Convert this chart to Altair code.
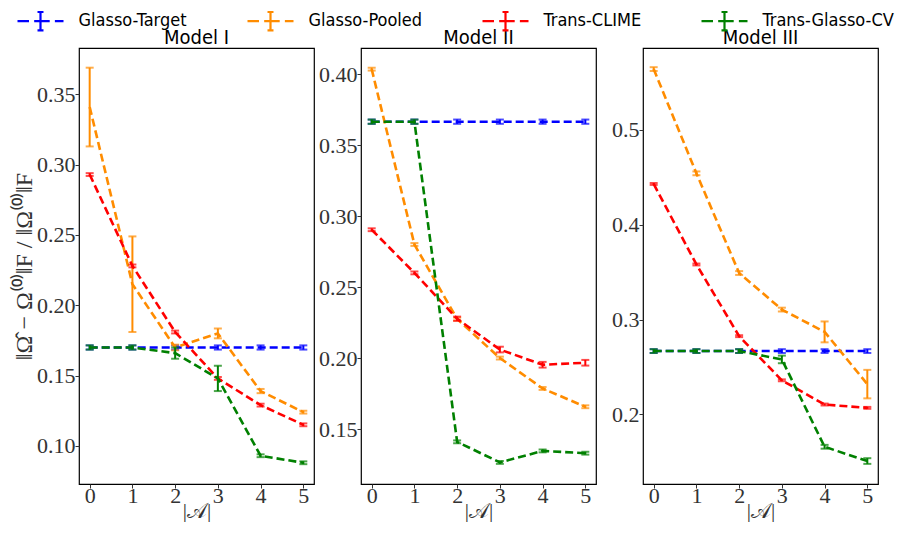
import altair as alt
import pandas as pd

methods = ["Glasso-Target", "Glasso-Pooled", "Trans-CLIME", "Trans-Glasso-CV"]
colors = ["#0000ff", "#ff8c00", "#ff0000", "#008000"]
sizes = [0, 1, 2, 3, 4, 5]
models = ["Model I", "Model II", "Model III"]

# Model I
m1_target = [0.170, 0.170, 0.170, 0.170, 0.170, 0.170]
m1_pooled = [0.341, 0.215, 0.170, 0.180, 0.139, 0.124]
m1_clime = [0.293, 0.228, 0.181, 0.148, 0.129, 0.115]
m1_cv = [0.170, 0.170, 0.166, 0.148, 0.093, 0.088]
m1_target_err = [0.0015, 0.0015, 0.0015, 0.0015, 0.0015, 0.0015]
m1_pooled_err = [0.028, 0.034, 0.002, 0.0035, 0.0015, 0.001]
m1_clime_err = [0.001, 0.001, 0.001, 0.001, 0.001, 0.001]
m1_cv_err = [0.0015, 0.0015, 0.004, 0.009, 0.001, 0.001]

# Model II
m2_target = [0.3665, 0.3665, 0.3665, 0.3665, 0.3665, 0.3665]
m2_pooled = [0.4035, 0.280, 0.2275, 0.200, 0.1786, 0.1657]
m2_clime = [0.2904, 0.260, 0.2277, 0.206, 0.1953, 0.1967]
m2_cv = [0.3665, 0.3665, 0.141, 0.1265, 0.1346, 0.133]
m2_target_err = [0.0015, 0.0015, 0.0015, 0.0015, 0.0015, 0.0015]
m2_pooled_err = [0.001, 0.001, 0.001, 0.001, 0.001, 0.001]
m2_clime_err = [0.001, 0.001, 0.0015, 0.002, 0.002, 0.002]
m2_cv_err = [0.0015, 0.0015, 0.001, 0.001, 0.001, 0.001]

# Model III
m3_target = [0.2668, 0.2668, 0.2668, 0.2668, 0.2668, 0.2668]
m3_pooled = [0.5638, 0.454, 0.349, 0.3105, 0.287, 0.232]
m3_clime = [0.4428, 0.358, 0.2825, 0.236, 0.2105, 0.207]
m3_cv = [0.2668, 0.2668, 0.2668, 0.258, 0.166, 0.151]
m3_target_err = [0.002, 0.002, 0.002, 0.002, 0.002, 0.002]
m3_pooled_err = [0.002, 0.002, 0.002, 0.002, 0.011, 0.015]
m3_clime_err = [0.001, 0.001, 0.001, 0.001, 0.001, 0.001]
m3_cv_err = [0.002, 0.002, 0.002, 0.004, 0.002, 0.003]

y_domains = [[0.0729, 0.383], [0.1113, 0.4184], [0.1268, 0.586]]
y_ticks = [[0.10, 0.15, 0.20, 0.25, 0.30, 0.35],
           [0.15, 0.20, 0.25, 0.30, 0.35, 0.40],
           [0.2, 0.3, 0.4, 0.5]]
y_formats = [".2f", ".2f", ".1f"]

series = {
    "Model I": [(m1_target, m1_target_err), (m1_pooled, m1_pooled_err), (m1_clime, m1_clime_err), (m1_cv, m1_cv_err)],
    "Model II": [(m2_target, m2_target_err), (m2_pooled, m2_pooled_err), (m2_clime, m2_clime_err), (m2_cv, m2_cv_err)],
    "Model III": [(m3_target, m3_target_err), (m3_pooled, m3_pooled_err), (m3_clime, m3_clime_err), (m3_cv, m3_cv_err)],
}

rows = []
for model in models:
    for mi, (vals, errs) in enumerate(series[model]):
        for s, v, e in zip(sizes, vals, errs):
            rows.append({"model": model, "method": methods[mi], "order": mi, "k": s,
                         "val": v, "lo": v - e, "hi": v + e})
df = pd.DataFrame(rows)

SANS = "DejaVu Sans Condensed, Liberation Sans Narrow, Liberation Sans"
SERIF = "Liberation Serif"
cscale = alt.Scale(domain=methods, range=colors)

# legend glyph: dashed line with an error bar, drawn wider than its reserved square
GLYPH = "M-2,0H-1M-0.55,0H0.8M1.25,0H2M0,-0.8V0.8M-0.26,-0.8H0.26M-0.26,0.8H0.26"

color = alt.Color("method:N", scale=cscale,
                  legend=alt.Legend(
                      title=None, orient="none", direction="horizontal",
                      legendX=-51.5, legendY=-40, padding=0,
                      symbolType=GLYPH, symbolSize=529, symbolStrokeWidth=2.2,
                      labelFont=SANS, labelFontSize=18, labelLimit=0,
                      labelColor="#000000", columnPadding=55, labelOffset=25,
                  ))
nolegend = alt.Color("method:N", scale=cscale, legend=None)


def panel(i, model):
    d = df[df.model == model]
    x = alt.X("k:Q", scale=alt.Scale(domain=[-0.25, 5.25], nice=False, zero=False),
              axis=alt.Axis(values=sizes, format="d", title="|𝒜|", grid=False,
                            labelFont=SERIF, labelFontSize=22, labelColor="#333333",
                            titleFont=SERIF, titleFontSize=21, titleFontWeight="normal",
                            titleColor="#333333", titlePadding=-6,
                            tickColor="#333333", domain=False, labelPadding=-3))
    yscale = alt.Scale(domain=y_domains[i], nice=False, zero=False)
    yaxis = alt.Axis(values=y_ticks[i], format=y_formats[i], grid=False,
                     labelFont=SERIF, labelFontSize=22, labelColor="#333333",
                     tickColor="#333333", domain=False, labelPadding=0,
                     title="‖Ω̂ − Ω⁽⁰⁾‖F / ‖Ω⁽⁰⁾‖F" if i == 0 else None,
                     titleFont=SERIF, titleFontSize=24, titleFontWeight="normal",
                     titleColor="#333333", titlePadding=0)
    base = alt.Chart(d)
    layers = []
    for mi, m in enumerate(methods):
        dm = base.transform_filter(alt.datum.method == m)
        line = dm.mark_line(strokeDash=[8, 4], strokeWidth=2.6, clip=True).encode(
            x=x, y=alt.Y("val:Q", scale=yscale, axis=yaxis), color=color, order="k:Q")
        rule = dm.mark_rule(strokeWidth=2).encode(x="k:Q", y="lo:Q", y2="hi:Q", color=nolegend)
        cap1 = dm.mark_tick(orient="horizontal", size=8, thickness=2).encode(x="k:Q", y="lo:Q", color=nolegend)
        cap2 = dm.mark_tick(orient="horizontal", size=8, thickness=2).encode(x="k:Q", y="hi:Q", color=nolegend)
        layers += [line, rule, cap1, cap2]
    return alt.layer(*layers).properties(
        width=235, height=436,
        title=alt.TitleParams(model, font=SANS, fontSize=20,
                              fontWeight="normal", color="#000000", offset=0))


chart = alt.hconcat(
    *[panel(i, m) for i, m in enumerate(models)], spacing=47, bounds="flush",
    padding={"left": 3, "top": 0, "right": 0, "bottom": 0},
).configure_view(
    stroke="#000000", strokeWidth=1.2
).configure_axis(
    tickSize=4, tickWidth=1
)

chart.save("out.html", embed_options={"renderer": "svg", "actions": False})
